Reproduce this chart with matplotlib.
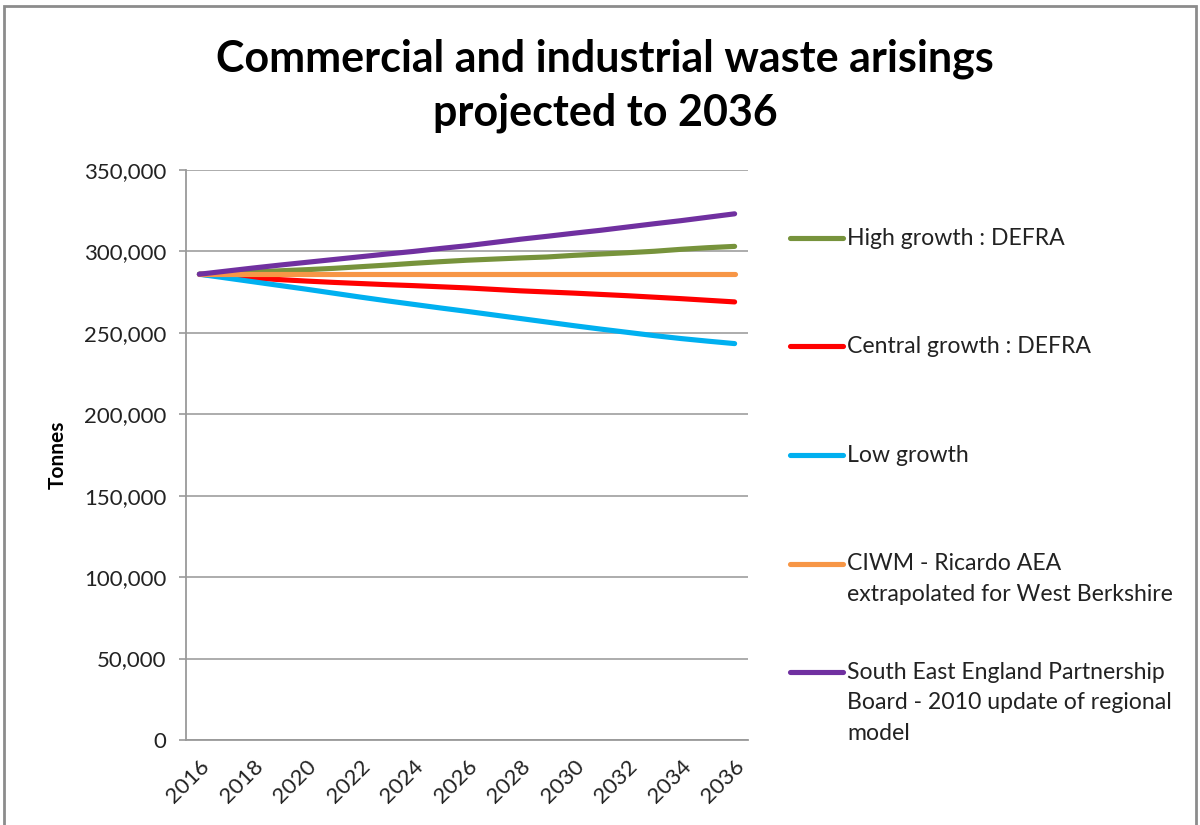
import matplotlib
matplotlib.use("Agg")
import matplotlib.pyplot as plt
from matplotlib.lines import Line2D
from matplotlib.patches import Rectangle
from matplotlib.ticker import FuncFormatter

# Projection years and tonnages per scenario
years = list(range(2016, 2037))

high_growth = [286000, 286700, 287400, 288100, 288800, 289600, 290600, 291600,
               292700, 293700, 294600, 295300, 296000, 296600, 297600, 298400,
               299200, 300100, 301300, 302300, 303100]
central_growth = [286000, 284800, 283700, 282700, 281800, 281000, 280300, 279600,
                  279000, 278300, 277600, 276700, 275800, 275100, 274400, 273600,
                  272800, 271900, 271000, 270000, 269000]
low_growth = [286000, 283700, 281400, 279100, 276800, 274400, 272000, 269700,
              267500, 265300, 263200, 261000, 258800, 256600, 254400, 252300,
              250300, 248300, 246500, 244900, 243400]
ciwm = [286000, 286000, 286000, 286000, 286000, 286000, 286000, 286000,
        286000, 286000, 286000, 286000, 286000, 286000, 286000, 286000,
        286000, 286000, 286000, 286000, 286000]
seepb = [286000, 287900, 289800, 291600, 293300, 295000, 296700, 298400,
         300000, 301800, 303500, 305500, 307500, 309300, 311200, 313000,
         315000, 317000, 318900, 321000, 323100]

series_labels = [
    "High growth : DEFRA",
    "Central growth : DEFRA",
    "Low growth",
    "CIWM - Ricardo AEA\nextrapolated for West Berkshire",
    "South East England Partnership\nBoard - 2010 update of regional\nmodel",
]
series_values = [high_growth, central_growth, low_growth, ciwm, seepb]
series_colors = ["#77933C", "#FF0000", "#00B0F0", "#F79646", "#7030A0"]

title_text = "Commercial and industrial waste arisings\nprojected to 2036"
y_label = "Tonnes"

FONT = "Lato"
plt.rcParams["font.family"] = [FONT, "DejaVu Sans"]

W, H = 1200, 825
fig = plt.figure(figsize=(W / 100, H / 100), dpi=100)
fig.patch.set_facecolor("white")

# outer chart border
fig.add_artist(Rectangle((4 / W, -0.02), (1196 - 4) / W, 1 - 6 / H + 0.02,
                         transform=fig.transFigure, fill=False,
                         edgecolor="#8c8c8c", linewidth=2))

ax = fig.add_axes([186 / W, 1 - 740 / H, (748 - 186) / W, (740 - 170) / H])

x = list(range(len(years)))
for vals, col in zip(series_values, series_colors):
    ax.plot(x, vals, color=col, linewidth=3.7, solid_capstyle="round",
            solid_joinstyle="round", zorder=3)

ax.set_xlim(-0.5, len(years) - 0.5)
ax.set_ylim(0, 350000)
ax.set_yticks(range(0, 350001, 50000))
ax.yaxis.set_major_formatter(FuncFormatter(lambda v, p: f"{int(v):,}"))
ax.set_xticks(x[::2])
ax.set_xticklabels([str(y) for y in years[::2]], rotation=45, ha="right",
                   va="top", rotation_mode="anchor")

ax.grid(axis="y", color="#a6a6a6", linewidth=1.3, zorder=0)
ax.set_axisbelow(True)
for s in ("top", "right"):
    ax.spines[s].set_visible(False)
for s in ("left", "bottom"):
    ax.spines[s].set_color("#9a9a9a")
    ax.spines[s].set_linewidth(1.3)

ax.tick_params(axis="y", length=5, width=1.2, color="#9a9a9a",
               labelsize=16, labelcolor="#222222", pad=9)
ax.tick_params(axis="x", length=0, labelsize=16, labelcolor="#222222", pad=12)

ax.set_ylabel(y_label, fontsize=15, fontweight="bold", labelpad=12)

fig.text(605 / W, 1 - 86 / H, title_text, ha="center", va="center",
         fontsize=31, fontweight="bold", linespacing=1.4)

# legend: key line and label per series, first lines evenly spaced
first_line_y = 238
line_step = 108.5
for i, (lab, col) in enumerate(zip(series_labels, series_colors)):
    yc = 1 - (first_line_y + i * line_step) / H
    fig.add_artist(Line2D([790 / W, 843 / W], [yc, yc], transform=fig.transFigure,
                          color=col, linewidth=3.7, solid_capstyle="round"))
    fig.text(847 / W, yc + 10 / H, lab, ha="left", va="top", fontsize=16.6,
             color="#222222", linespacing=1.55)

fig.savefig("out.png", dpi=100)
